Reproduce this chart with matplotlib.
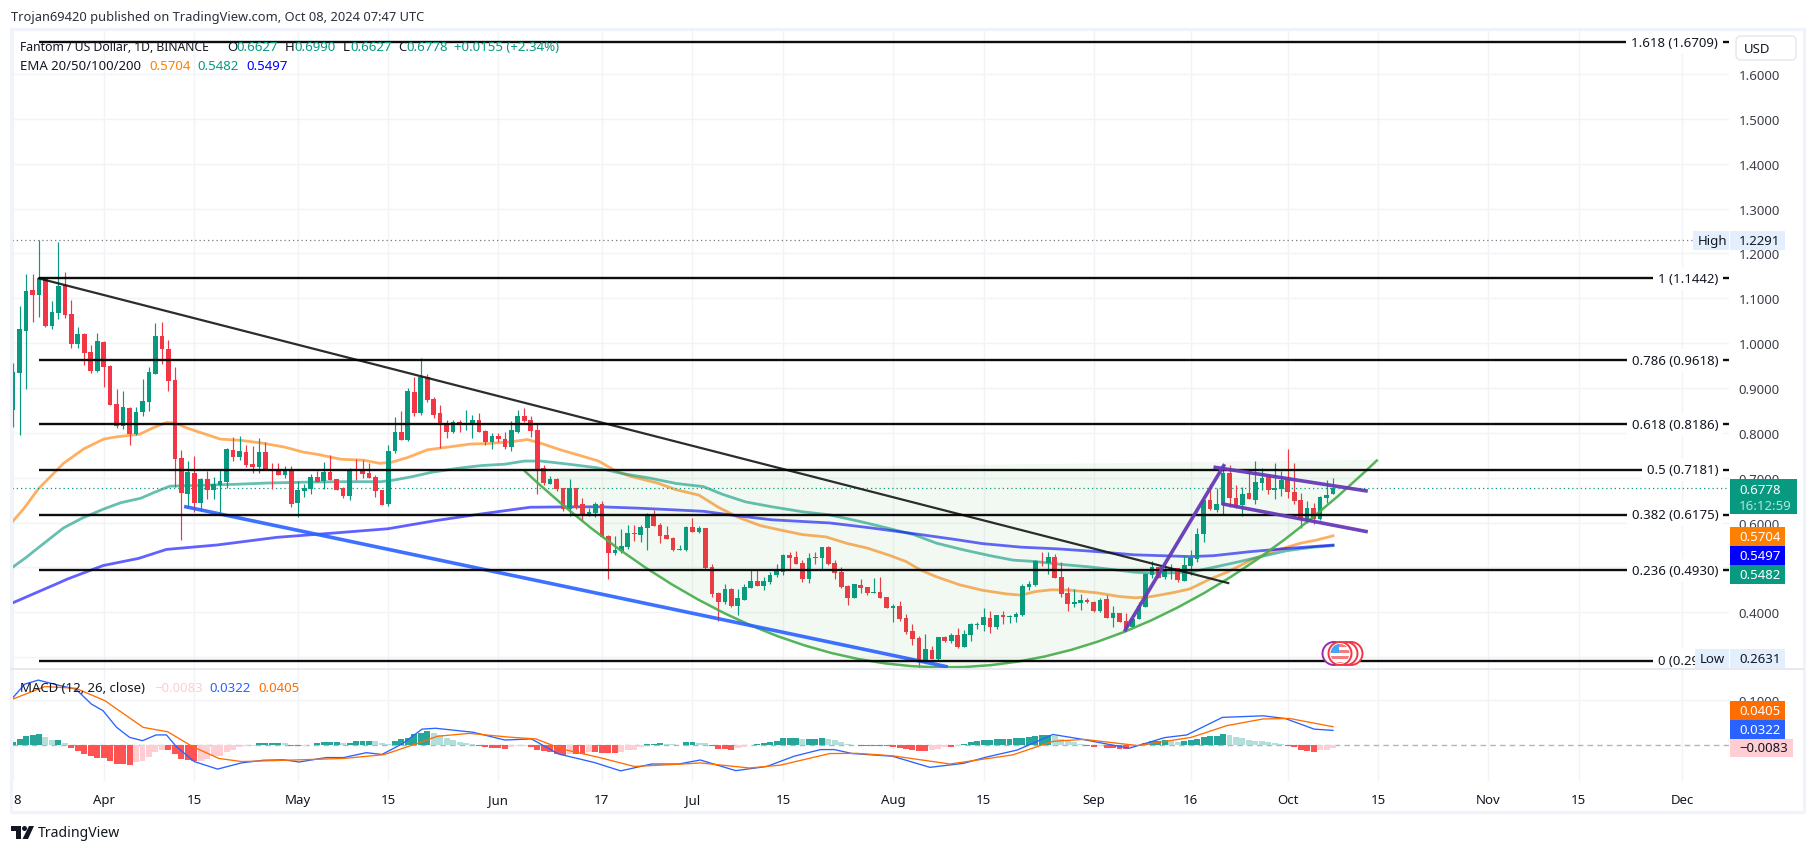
import matplotlib
matplotlib.use("Agg")
import matplotlib.pyplot as plt
from matplotlib.patches import Rectangle, FancyBboxPatch, Circle, Polygon, PathPatch
from matplotlib.path import Path

plt.rcParams['font.family'] = ['Noto Sans', 'DejaVu Sans']

# days are counted from 1 Apr 2024, first candle is 18 Mar (-14), last is 8 Oct (190)
first_day = -14
opens = [.851, .933, 1.027, 1.118, 1.107, 1.143, 1.038, 1.067, 1.130, 1.065,
         .998, 1.020, .980, .938, 1.002, .949, .864, .815, .855, .797,
         .846, .869, .931, 1.016, .987, .918, .744, .664, .711, .644,
         .697, .673, .684, .690, .762, .746, .757, .731, .724, .757,
         .719, .717, .706, .717, .644, .670, .675, .701, .692, .713,
         .697, .677, .659, .717, .717, .710, .701, .672, .641, .759,
         .802, .784, .891, .844, .924, .875, .844, .822, .802, .824,
         .820, .820, .828, .804, .779, .793, .786, .768, .802, .837,
         .828, .806, .721, .686, .697, .677, .630, .677, .641, .614,
         .621, .641, .570, .532, .536, .545, .576, .572, .588, .617,
         .594, .572, .565, .539, .539, .590, .579, .588, .501, .443,
         .423, .452, .414, .427, .454, .470, .458, .467, .483, .490,
         .527, .523, .510, .474, .523, .521, .545, .510, .490, .458,
         .432, .461, .456, .443, .445, .434, .409, .414, .387, .358,
         .342, .288, .316, .296, .345, .336, .349, .322, .349, .371,
         .371, .387, .367, .394, .389, .389, .394, .456, .461, .513,
         .510, .523, .478, .443, .418, .420, .427, .423, .403, .429,
         .387, .398, .380, .367, .385, .411, .483, .501, .478, .494,
         .498, .470, .503, .519, .574, .650, .628, .639, .710, .655,
         .639, .666, .650, .688, .701, .672, .675, .695, .668, .650,
         .603, .632, .608, .654, .6627]
closes = [.936, 1.032, 1.116, 1.107, 1.146, 1.038, 1.069, 1.127, 1.063, .998,
          1.020, .978, .938, 1.005, .947, .862, .815, .858, .797, .846,
          .871, .936, 1.016, .987, .916, .742, .666, .713, .644, .697,
          .673, .686, .693, .764, .746, .760, .728, .724, .757, .717,
          .715, .706, .717, .641, .673, .677, .701, .690, .713, .695,
          .672, .659, .717, .715, .708, .699, .670, .639, .759, .802,
          .784, .893, .844, .924, .873, .840, .817, .802, .824, .817,
          .822, .828, .802, .779, .793, .786, .768, .806, .837, .826,
          .804, .719, .688, .697, .675, .630, .677, .635, .617, .623,
          .641, .568, .532, .539, .547, .576, .575, .590, .617, .592,
          .570, .563, .539, .541, .590, .579, .588, .498, .441, .423,
          .452, .414, .432, .456, .470, .458, .470, .483, .492, .527,
          .521, .507, .474, .521, .521, .545, .507, .487, .456, .432,
          .463, .454, .443, .445, .432, .409, .414, .385, .356, .340,
          .288, .318, .296, .345, .336, .349, .322, .351, .374, .374,
          .389, .367, .394, .389, .391, .396, .458, .463, .514, .512,
          .523, .476, .440, .418, .423, .427, .423, .403, .427, .387,
          .398, .378, .365, .385, .414, .485, .501, .476, .496, .498,
          .472, .505, .521, .574, .650, .630, .641, .710, .655, .634,
          .663, .652, .690, .699, .672, .677, .695, .668, .648, .606,
          .632, .608, .657, .661, .6778]
highs = [.956, 1.082, 1.154, 1.154, 1.229, 1.144, 1.094, 1.225, 1.159, 1.096,
         1.036, 1.023, .996, 1.023, 1.005, .951, .898, .893, .858, .858,
         .920, .947, 1.045, 1.047, 1.007, .947, .762, .737, .748, .699,
         .715, .702, .719, .766, .791, .793, .773, .771, .789, .780,
         .733, .733, .726, .726, .693, .686, .708, .715, .735, .750,
         .697, .679, .721, .741, .739, .733, .706, .672, .773, .835,
         .848, .900, .924, .967, .931, .880, .862, .828, .828, .828,
         .851, .840, .844, .806, .800, .800, .802, .826, .851, .855,
         .837, .820, .728, .704, .699, .677, .697, .677, .655, .632,
         .646, .648, .572, .570, .585, .594, .594, .594, .621, .628,
         .599, .592, .568, .550, .592, .610, .592, .588, .507, .445,
         .463, .454, .452, .463, .496, .494, .478, .490, .507, .530,
         .534, .536, .516, .532, .534, .545, .547, .516, .501, .461,
         .463, .474, .456, .476, .478, .434, .418, .425, .396, .374,
         .347, .351, .325, .345, .347, .354, .365, .360, .376, .378,
         .409, .403, .394, .403, .394, .400, .463, .469, .516, .534,
         .534, .530, .512, .456, .452, .440, .432, .425, .432, .438,
         .414, .398, .398, .387, .423, .487, .514, .501, .507, .507,
         .498, .527, .539, .588, .650, .686, .677, .728, .728, .684,
         .679, .717, .737, .721, .706, .733, .715, .764, .733, .666,
         .648, .643, .659, .695, .6990]
lows = [.813, .795, .898, 1.046, 1.058, 1.036, 1.032, 1.054, 1.056, .989,
        .989, .951, .933, .936, .902, .862, .811, .809, .773, .795,
        .838, .849, .931, .954, .893, .679, .561, .635, .624, .626,
        .653, .653, .617, .678, .737, .740, .724, .711, .711, .717,
        .675, .706, .699, .635, .612, .657, .664, .690, .675, .695,
        .672, .655, .650, .695, .699, .699, .657, .639, .637, .755,
        .784, .782, .837, .840, .869, .833, .766, .788, .800, .802,
        .806, .788, .802, .773, .764, .779, .764, .759, .800, .824,
        .791, .664, .684, .686, .670, .626, .614, .630, .603, .614,
        .612, .568, .474, .527, .532, .541, .559, .556, .539, .592,
        .554, .563, .536, .539, .536, .579, .576, .496, .434, .380,
        .418, .412, .394, .427, .454, .458, .449, .463, .478, .483,
        .494, .507, .467, .465, .507, .496, .505, .474, .454, .416,
        .432, .443, .438, .443, .432, .409, .378, .380, .351, .327,
        .2631, .288, .296, .291, .333, .331, .320, .322, .336, .362,
        .358, .354, .362, .374, .376, .378, .391, .449, .458, .503,
        .485, .476, .434, .403, .411, .405, .420, .400, .400, .387,
        .367, .378, .358, .367, .385, .411, .476, .476, .474, .474,
        .467, .470, .483, .512, .556, .628, .623, .619, .634, .632,
        .614, .652, .641, .672, .663, .652, .659, .655, .641, .588,
        .599, .597, .605, .643, .6627]

ema20_x = [-14.4, -12.4, -10.1, -6.2, -3.1, 0, 2, 5.6, 7.6, 9.7, 11, 13, 18, 21.3, 24.5, 28, 30.8,
           33, 36.7, 40.2, 42.6, 44.4, 47, 50, 52.6, 56.7, 59.3, 62.9, 65.5, 67.5, 70.6, 73.7, 76.5,
           79, 81.4, 85.6, 88.5, 92, 95, 98, 101.5, 105, 108, 111.6, 115, 118, 121.6, 124, 126.4,
           128.7, 132.3, 135.8, 139.4, 141.8, 144, 146.5, 149.5, 153.6, 157, 159.5, 162, 165.4,
           167.9, 171, 173.6, 177.7, 180.8, 185, 187.5, 190]
ema20 = [.597, .630, .675, .732, .764, .786, .791, .797, .811, .823, .822, .810, .786, .783, .777, .768, .757,
         .752, .741, .739, .732, .734, .745, .762, .767, .775, .776, .780, .785, .777, .762, .749, .737,
         .716, .703, .688, .673, .661, .634, .612, .593, .582, .573, .568, .553, .543, .526, .513, .493,
         .479, .461, .449, .441, .438, .446, .450, .449, .443, .435, .432, .435, .444,
         .452, .474, .489, .519, .536, .554, .561, .5704]
ema50_x = [-14.2, -12, -10, -6.2, -3.3, 0, 2.6, 5.7, 7.8, 10.2, 12.5, 20, 25.2, 31.4, 36.7, 42.9, 45, 47.6,
           50.7, 54.8, 58.4, 62, 65, 67.6, 71.3, 76.3, 80.2, 84.4, 88.5, 92.7, 95.6, 99.2, 103.3, 108,
           112.2, 117, 121, 125.2, 128.7, 132.9, 137, 140.6, 144, 147.7, 152.4, 156, 159.5, 163,
           167.9, 171.5, 175.6, 179.8, 182.8, 187, 190]
ema50 = [.499, .522, .545, .588, .610, .630, .644, .654, .667, .681, .682, .685, .688, .690, .691, .691, .695, .702,
         .712, .721, .727, .730, .737, .737, .731, .722, .709, .699, .687, .680, .663, .646, .635, .624,
         .617, .602, .588, .573, .554, .539, .526, .516, .513, .507, .501, .495, .489, .487,
         .489, .500, .513, .527, .537, .545, .5482]
ema100_x = [-14.2, -11, -7, -5.6, -0.1, 5.4, 9.7, 17.6, 26.8, 36, 43.9, 51.2, 57.3, 65.9, 72.6, 76.7,
            82.6, 88.5, 92.7, 96.8, 103.3, 112.2, 118, 125.8, 131.7, 135.8, 141.8, 147.7, 153.6,
            159.2, 167.9, 171.5, 177.2, 182.8, 190]
ema100 = [.420, .440, .465, .474, .504, .520, .540, .550, .567, .577, .586, .604, .617, .634, .635, .635,
          .632, .628, .625, .617, .606, .599, .589, .574, .562, .553, .545, .541, .535,
          .528, .524, .526, .535, .542, .5497]

price_ticks = [0.3, 0.4, 0.5, 0.6, 0.7, 0.8, 0.9, 1.0, 1.1, 1.2, 1.3, 1.4, 1.5, 1.6]
hidden_ticks = [0.3, 0.5]  # sit fully behind the Low and EMA tags
fib_prices = [1.6709, 1.1442, 0.9618, 0.8186, 0.7181, 0.6175, 0.4930, 0.2920]
fib_labels = ['1.618 (1.6709)', '1 (1.1442)', '0.786 (0.9618)', '0.618 (0.8186)',
              '0.5 (0.7181)', '0.382 (0.6175)', '0.236 (0.4930)', '0 (0.2920)']
period_high = 1.2291
last_close = 0.6778

# drawings (day, price)
down_trend_x, down_trend_y = [-10, 173.8], [1.1442, .465]
support_x, support_y = [12.7, 130.2], [.635, .2788]
cup_anchors = [(65, .7157), (131, -.174), (196.9, .740)]  # start, control, end of the curved drawing
pole_x, pole_y = [157.9, 173.1], [.3608, .7266]
flag_top_x, flag_top_y = [171.8, 195.1], [.723, .6706]
flag_low_x, flag_low_y = [173.1, 195.1], [.641, .580]

macd_hist = [.005, .013, .019, .021, .023, .017, .011, .011, .004, -.007,
             -.014, -.021, -.026, -.029, -.030, -.037, -.043, -.044, -.045, -.040,
             -.036, -.027, -.016, -.011, -.012, -.021, -.032, -.034, -.037, -.036,
             -.033, -.026, -.025, -.017, -.011, -.005, -.004, -.002, .003, .003,
             .003, .004, .003, -.002, -.003, -.002, -.001, .003, .006, .006,
             .006, .004, .004, .008, .009, .009, .008, .004, .001, .008,
             .012, .016, .024, .027, .030, .026, .021, .015, .010, .007,
             .004, .002, -.003, -.005, -.007, -.008, -.010, -.006, -.004, -.002,
             -.005, -.011, -.015, -.016, -.022, -.024, -.021, -.021, -.021, -.017,
             -.017, -.018, -.019, -.019, -.017, -.013, -.011, -.005, .001, .002,
             .003, .002, .001, .000, .005, .006, .004, .003, -.004, -.009,
             -.010, -.011, -.008, -.006, -.001, .001, .003, .006, .009, .014,
             .015, .015, .013, .013, .013, .014, .012, .010, .005, .001,
             .000, -.004, -.004, -.004, -.004, -.004, -.006, -.007, -.010, -.011,
             -.014, -.014, -.011, -.010, -.006, -.006, -.002, .001, .005, .008,
             .010, .010, .013, .013, .013, .014, .015, .018, .020, .022,
             .022, .020, .013, .008, .005, .001, -.004, -.006, -.004, -.008,
             -.008, -.010, -.010, -.006, -.001, .004, .008, .008, .010, .008,
             .006, .008, .010, .013, .018, .019, .020, .024, .022, .018,
             .015, .010, .009, .008, .005, .004, .001, -.002, -.006, -.012,
             -.014, -.016, -.013, -.011, -.0083]
macd_x = [-14, -12.2, -10.1, -7, -4.3, -1.9, -0.1, 2, 4, 6, 8.1, 9.7, 11.2, 14, 17.6, 21.3, 24.7, 27.8, 30.2,
          34.4, 37.1, 40.6, 43, 46.1, 49.2, 51.3, 57.1, 62, 66.1, 70.3, 75.8, 79.9, 84.7, 88.9, 92.2, 97.7,
          102.5, 106.7, 110.8, 112.9, 115.7, 121.9, 127.7, 132.9, 136.4, 141.2, 146.7, 150.9, 158.5, 164,
          167.4, 172.9, 179.2, 182.6, 187.1, 190]
macd_line = [.1065, .1365, .1455, .134, .125, .0915, .0765, .039, .0165, .009, .022, .022, -.004, -.038, -.055,
             -.041, -.035, -.034, -.039, -.029, -.029, -.018, -.022, .0015, .035, .037, .028, .0105, .013,
             -.021, -.04, -.059, -.0435, -.0435, -.0345, -.0585, -.049, -.026, -.011, -.011, -.020, -.026,
             -.051, -.042, -.028, -.012, .023, .013, -.008, .016, .022, .0615, .065, .059, .035, .0322]
signal_x = [-14, -9.1, -4.3, .2, 6.1, 9.9, 13.7, 17.8, 21.3, 28.2, 37.1, 43.3, 48.2, 51.6, 56.5, 62.7, 66.8, 70.9,
            76.5, 82, 89.6, 92.2, 99.8, 104.6, 112.2, 116.4, 121.9, 130.8, 140.5, 146.7, 151.5, 159.8, 168.1,
            173.6, 179.2, 183.3, 190]
signal_line = [.103, .131, .127, .099, .039, .029, -.004, -.031, -.038, -.035, -.031, -.0225, .0015, .019, .0255,
               .017, .013, -.010, -.0285, -.049, -.0435, -.041, -.0525, -.046, -.020, -.0195, -.025, -.0435,
               -.023, .0075, .012, -.002, .0165, .043, .058, .059, .0405]

date_ticks = [-14, 0, 14, 30, 44, 61, 77, 91, 105, 122, 136, 153, 168, 183, 197, 214, 228, 244]
date_labels = ['8', 'Apr', '15', 'May', '15', 'Jun', '17', 'Jul', '15', 'Aug', '15', 'Sep', '16', 'Oct', '15',
               'Nov', '15', 'Dec']
month_names = ['Apr', 'May', 'Jun', 'Jul', 'Aug', 'Sep', 'Oct', 'Nov', 'Dec']

W, H = 1814, 853
GREEN, RED = '#089981', '#f23645'
GRID = '#f2f3f6'
TXT = '#131722'
FS = 9.5


def px_axes(left, top, right, bottom):
    return fig.add_axes([left / W, 1 - bottom / H, (right - left) / W, (bottom - top) / H])


fig = plt.figure(figsize=(W / 100, H / 100), dpi=100, facecolor='white')
ax = px_axes(11.5, 31, 1729, 669)
ax2 = px_axes(11.5, 670, 1729, 782)
xlim = (-14.25, 251.2)

for a in (ax, ax2):
    a.set_xlim(*xlim)
    a.set_xticks(date_ticks)
    a.grid(True, color=GRID, lw=1)
    a.set_axisbelow(True)
    for s in a.spines.values():
        s.set_visible(False)
    a.yaxis.tick_right()
    a.tick_params(length=0, labelsize=FS, labelcolor='#3b3f4a')

# price pane
ax.set_ylim(.2756, 1.6981)
ax.set_yticks(price_ticks)
ax.set_yticklabels(['' if p in hidden_ticks else '%.4f' % p for p in price_ticks])
ax.tick_params(axis='y', pad=7)
ax.tick_params(axis='x', labelbottom=False)

days = list(range(first_day, first_day + len(opens)))
colors = [GREEN if c >= o else RED for o, c in zip(opens, closes)]
line_kw = dict(lw=2, alpha=.62, zorder=2, solid_joinstyle='round')
ax.plot(ema20_x, ema20, color='#ff7f00', **line_kw)
ax.plot(ema50_x, ema50, color='#089981', **line_kw)
ax.plot(ema100_x, ema100, color='#0000ff', **line_kw)
ax.vlines(days, lows, highs, colors=colors, lw=.85, zorder=3)
ax.bar(days, [c - o for o, c in zip(opens, closes)], bottom=opens, width=.72, color=colors, lw=0, zorder=3)

ax.axhline(period_high, color='#787b86', lw=.9, ls=(0, (1, 2.4)), zorder=2)
ax.axhline(last_close, color=GREEN, lw=.9, ls=(0, (1, 2.4)), zorder=2)

# cup pattern
cup_codes = [Path.MOVETO, Path.CURVE3, Path.CURVE3]
ax.add_patch(PathPatch(Path(cup_anchors + [cup_anchors[0]], cup_codes + [Path.CLOSEPOLY]), fc='#4caf50',
                       alpha=.07, lw=0, zorder=4))
ax.add_patch(PathPatch(Path(cup_anchors, cup_codes), fc='none', ec='#4caf50', lw=1.8, alpha=.95, zorder=5))
ax.plot(down_trend_x, down_trend_y, color='#151515', lw=1.6, alpha=.9, zorder=5)
ax.plot(support_x, support_y, color='#2962ff', lw=2.6, alpha=.9, zorder=5)
for xs, ys in [(pole_x, pole_y), (flag_top_x, flag_top_y), (flag_low_x, flag_low_y)]:
    ax.plot(xs, ys, color='#673ab7', lw=2.6, alpha=.95, zorder=6)

for p, lab in zip(fib_prices, fib_labels):
    ax.hlines(p, -10, xlim[1], color='black', lw=1.7, alpha=.95, zorder=5)
    ax.text(249.55, p, lab, ha='right', va='center', fontsize=FS, color=TXT, zorder=7,
            bbox=dict(fc='white', ec='none', pad=3.6))

# macd pane
ax2.set_ylim(-.0818, .1705)
ax2.set_yticks([.1])
ax2.set_yticklabels(['0.1000'])
ax2.tick_params(axis='y', pad=7)
ax2.axhline(0, color='#b2b5be', lw=1, ls=(0, (4, 3)), zorder=1)
hist_colors = []
prev = macd_hist[0]
for v in macd_hist:
    if v >= 0:
        hist_colors.append('#26a69a' if v >= prev else '#b2dfdb')
    else:
        hist_colors.append('#ff5252' if v <= prev else '#ffcdd2')
    prev = v
ax2.bar(days, macd_hist, width=.92, color=hist_colors, lw=0, zorder=2)
ax2.plot(macd_x, macd_line, color='#2962ff', lw=.95, zorder=3, solid_joinstyle='round')
ax2.plot(signal_x, signal_line, color='#ff6d00', lw=.95, zorder=3, solid_joinstyle='round')
ax2.set_xticklabels(date_labels)
ax2.tick_params(axis='x', pad=9, labelcolor=TXT)
for t in ax2.get_xticklabels():
    if t.get_text() in month_names:
        t.set_fontweight('bold')
ax2.get_xticklabels()[0].set_ha('left')

# page furniture in pixel coordinates
ov = fig.add_axes([0, 0, 1, 1], facecolor='none', zorder=10)
ov.set_xlim(0, W)
ov.set_ylim(H, 0)
ov.axis('off')


def label(x, y, s, color=TXT, **kw):
    ov.text(x, y, s, color=color, fontsize=kw.pop('fontsize', FS), va='center', **kw)


def tag(x0, y0, x1, y1, fc, s, tc='white', weight='normal'):
    ov.add_patch(Rectangle((x0, y0), x1 - x0, y1 - y0, fc=fc, ec='none'))
    label(x0 + 9, (y0 + y1) / 2, s, color=tc, fontweight=weight)


ov.add_patch(Rectangle((10.5, 30), 1793.5, 783, fc='none', ec='#f0f3fa', lw=2.2))
ov.plot([11, 1803], [669.5, 669.5], color='#e0e3eb', lw=1.1)
label(11, 17, 'Trojan69420 published on TradingView.com, Oct 08, 2024 07:47 UTC', color='#2a2e39', fontsize=9.25)

label(20, 47, 'Fantom / US Dollar, 1D, BINANCE', fontsize=8.8)
for x, s, c in [(227, 'O', TXT), (236, '0.6627', GREEN), (285, 'H', TXT), (294, '0.6990', GREEN),
                (343, 'L', TXT), (350, '0.6627', GREEN), (398, 'C', TXT), (406, '0.6778', GREEN),
                (454, '+0.0155 (+2.34%)', GREEN)]:
    label(x, 47, s, color=c)
label(20, 66, 'EMA 20/50/100/200')
label(149, 66, '0.5704', color='#ff7f00')
label(197, 66, '0.5482', color=GREEN)
label(246, 66, '0.5497', color='#0000ff')
label(20, 688, 'MACD (12, 26, close)')
label(154, 688, '\u22120.0083', color='#ffcdd2')
label(209, 688, '0.0322', color='#2962ff')
label(258, 688, '0.0405', color='#ff6d00')

# right axis tags
ov.add_patch(FancyBboxPatch((1736, 37), 60, 24, boxstyle='round,pad=0,rounding_size=5', fc='white',
                            ec='#e6e8ee', lw=1.1))
label(1744, 49, 'USD')
tag(1693, 232, 1729, 251, '#e3effd', 'High', TXT)
ov.texts[-1].set_x(1698)
tag(1730, 232, 1785, 251, '#e3effd', '1.2291', TXT)
tag(1695, 650, 1729, 669, '#e3effd', 'Low', TXT)
ov.texts[-1].set_x(1700)
tag(1730, 650, 1785, 669, '#e3effd', '0.2631', TXT)
ov.add_patch(Rectangle((1730, 480), 67, 35, fc=GREEN, ec='none'))
label(1739, 490, '0.6778', color='white')
label(1739, 506, '16:12:59', color='#b5e3da')
tag(1730, 528, 1785, 547, '#ff7f00', '0.5704')
tag(1730, 547, 1785, 566, '#0000ff', '0.5497')
tag(1730, 566, 1785, 585, GREEN, '0.5482')
tag(1730, 702, 1785, 721, '#ff6d00', '0.0405')
tag(1730, 721, 1785, 740, '#2962ff', '0.0322')
tag(1730, 740, 1793, 758, '#ffcdd2', '\u22120.0083', TXT)

# event badges
for cx, ec in [(1351, RED), (1346, RED), (1334, '#9c27b0'), (1340, RED)]:
    ov.add_patch(Circle((cx, 654.5), 11.5, fc='white', ec=ec, lw=1.4))
clip = Circle((1340, 654.5), 9.5, transform=ov.transData)
for y0 in (645, 651, 657, 663):
    ov.add_patch(Rectangle((1328, y0), 24, 3, fc='#f77c80', ec='none', clip_path=clip))
ov.add_patch(Rectangle((1331, 645), 8, 9, fc='#42a5f5', ec='none', clip_path=clip))

# TradingView logo
ov.add_patch(Polygon([(11, 827), (21, 827), (21, 840), (16, 840), (16, 832), (11, 832)], fc='#131722', ec='none'))
ov.add_patch(Circle((24.5, 829.5), 2.5, fc='#131722', ec='none'))
ov.add_patch(Polygon([(29, 827), (34, 827), (28, 840), (22.5, 840)], fc='#131722', ec='none'))
label(38, 834, 'TradingView', fontsize=10.1)

fig.savefig('out.png', dpi=100, facecolor='white')
